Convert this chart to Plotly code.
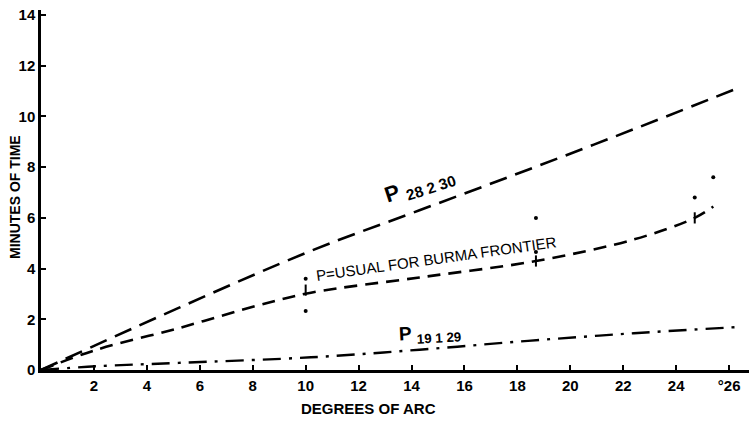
import plotly.graph_objects as go

# --- data ---
top_x = [0, 5.2, 10.2, 14.3, 18.4, 22.4, 26.4]
top_y = [0, 2.45, 4.7, 6.3, 7.9, 9.5, 11.15]

mid_x = [0, 2.1, 5.2, 8.2, 10.2, 14.3, 18.7, 22.4, 24.7, 25.4]
mid_y = [0, 0.8, 1.65, 2.55, 3.05, 3.65, 4.3, 5.15, 6.0, 6.45]

low_x = [0, 2.1, 5.2, 10.2, 14.3, 18.4, 22.4, 26.4]
low_y = [0, 0.15, 0.28, 0.5, 0.8, 1.15, 1.45, 1.7]

obs_x = [10.0, 10.0, 18.7, 18.7, 24.7, 25.4]
obs_y = [3.6, 2.33, 6.0, 4.65, 6.8, 7.6]

mark_x = [10.0, 18.7, 24.7]
mark_y = [3.15, 4.3, 6.0]

x_ticks = [2, 4, 6, 8, 10, 12, 14, 16, 18, 20, 22, 24, 26]
x_labels = ["2", "4", "6", "8", "10", "12", "14", "16", "18", "20", "22", "24", "°26"]
y_ticks = [0, 2, 4, 6, 8, 10, 12, 14]
y_labels = ["0", "2", "4", "6", "8", "10", "12", "14"]

FONT = "Liberation Sans Narrow, Liberation Sans, Arial, sans-serif"

fig = go.Figure()
fig.add_trace(go.Scatter(x=top_x, y=top_y, mode="lines", line_shape="spline",
                         line=dict(color="black", width=2.6, dash="18px,9px"), hoverinfo="skip"))
fig.add_trace(go.Scatter(x=mid_x, y=mid_y, mode="lines", line_shape="spline",
                         line=dict(color="black", width=2.6, dash="13px,8px"), hoverinfo="skip"))
fig.add_trace(go.Scatter(x=low_x, y=low_y, mode="lines", line_shape="spline",
                         line=dict(color="black", width=2.4, dash="18px,8px,3px,8px"), hoverinfo="skip"))
fig.add_trace(go.Scatter(x=obs_x, y=obs_y, mode="markers",
                         marker=dict(color="black", size=4), hoverinfo="skip"))
fig.add_trace(go.Scatter(x=mark_x, y=mark_y, mode="markers",
                         marker=dict(color="black", size=8, symbol="line-ns",
                                     line=dict(color="black", width=2)), hoverinfo="skip"))

def note(x, y, text, size, angle):
    fig.add_annotation(x=x, y=y, xref="paper", yref="paper", xanchor="center", yanchor="middle",
                       text=text, showarrow=False, textangle=angle,
                       font=dict(family=FONT, size=size, color="black"))

note(0.559, 0.31, "P=USUAL FOR BURMA FRONTIER", 15, -8)
note(0.535, 0.51, "<b>P <sub>28 2 30</sub></b>", 22, -18)
note(0.549, 0.10, "<b>P <sub>19 1 29</sub></b>", 19, -3)
note(-0.037, 0.48, "<b>MINUTES OF TIME</b>", 14, -90)
note(0.462, -0.108, "<b>DEGREES OF ARC</b>", 15, 0)

fig.update_layout(
    width=749, height=421,
    margin=dict(l=41, r=0, t=10, b=51),
    paper_bgcolor="white", plot_bgcolor="white",
    showlegend=False,
    font=dict(family=FONT, color="black"),
    xaxis=dict(range=[0, 26.75], tickvals=x_ticks, ticktext=[f"<b>{t}</b>" for t in x_labels],
               ticks="inside", ticklen=5, tickwidth=1.5, tickcolor="black",
               showline=True, linecolor="black", linewidth=2.5, showgrid=False, zeroline=False,
               automargin=False, ticklabeloverflow="allow",
               tickfont=dict(family=FONT, size=15, color="black")),
    yaxis=dict(range=[0, 14.2], tickvals=y_ticks, ticktext=[f"<b>{t}</b>" for t in y_labels],
               ticks="inside", ticklen=5, tickwidth=1.5, tickcolor="black",
               showline=True, linecolor="black", linewidth=2.5, showgrid=False, zeroline=False,
               automargin=False, ticklabeloverflow="allow",
               tickfont=dict(family=FONT, size=15, color="black")),
)

fig.write_html("out.html", config={"displayModeBar": False},
               post_script="document.body.style.margin='0';")
